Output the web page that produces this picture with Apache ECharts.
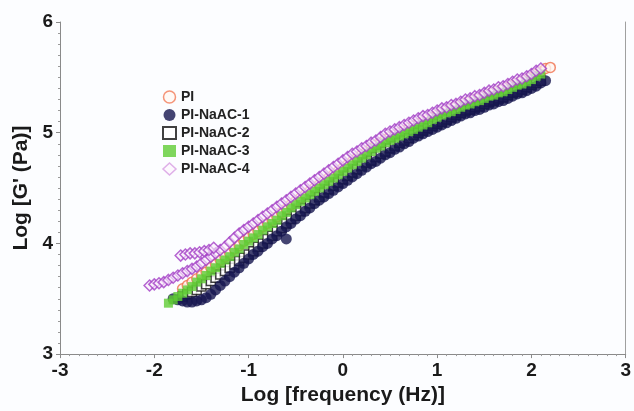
<!DOCTYPE html>
<html>
<head>
<meta charset="utf-8">
<script src="https://cdn.jsdelivr.net/npm/echarts@6/dist/echarts.min.js"></script>
<style>html,body{margin:0;padding:0;background:#fcfdff;}#c{width:634px;height:411px;}</style>
</head>
<body>
<div id="c"></div>
<script>
// Shared log-frequency grid (log Hz)
var logF = [
 -2.05,-2.00,-1.95,-1.90,-1.85,-1.80,-1.75,-1.70,-1.65,-1.60,
 -1.55,-1.50,-1.45,-1.40,-1.35,-1.30,-1.25,-1.20,-1.15,-1.10,
 -1.05,-1.00,-0.95,-0.90,-0.85,-0.80,-0.75,-0.70,-0.65,-0.60,
 -0.55,-0.50,-0.45,-0.40,-0.35,-0.30,-0.25,-0.20,-0.15,-0.10,
 -0.05,0.00,0.05,0.10,0.15,0.20,0.25,0.30,0.35,0.40,
 0.45,0.50,0.55,0.60,0.65,0.70,0.75,0.80,0.85,0.90,
 0.95,1.00,1.05,1.10,1.15,1.20,1.25,1.30,1.35,1.40,
 1.45,1.50,1.55,1.60,1.65,1.70,1.75,1.80,1.85,1.90,
 1.95,2.00,2.05,2.10,2.15,2.20
];
var n = null;
var gPI = [
 n,n,n,n,n,n,n,3.59,3.62,3.65,
 3.68,3.71,3.74,3.78,3.81,3.85,3.88,3.91,3.95,3.98,
 4.02,4.05,4.08,4.11,4.15,4.18,4.21,4.24,4.28,4.31,
 4.35,4.38,4.41,4.44,4.47,4.50,4.53,4.56,4.59,4.62,
 4.65,4.68,4.71,4.74,4.77,4.80,4.83,4.86,4.89,4.91,
 4.94,4.96,4.98,5.00,5.02,5.04,5.06,5.08,5.10,5.12,
 5.14,5.16,5.18,5.20,5.22,5.23,5.25,5.27,5.28,5.30,
 5.31,5.33,5.35,5.36,5.38,5.39,5.41,5.43,5.45,5.46,
 5.48,5.50,5.53,5.55,5.58,5.59
];
var gNaAC1 = [
 n,n,n,n,n,3.50,3.49,3.48,3.47,3.47,
 3.48,3.49,3.51,3.54,3.58,3.62,3.66,3.70,3.74,3.78,
 3.82,3.86,3.90,3.93,3.97,4.00,4.04,4.07,4.11,4.15,
 4.18,4.22,4.25,4.29,4.32,4.36,4.39,4.42,4.45,4.48,
 4.51,4.54,4.57,4.60,4.63,4.66,4.69,4.72,4.74,4.77,
 4.80,4.82,4.85,4.87,4.90,4.92,4.95,4.97,4.99,5.01,
 5.03,5.05,5.07,5.09,5.11,5.13,5.15,5.17,5.18,5.20,
 5.21,5.23,5.25,5.26,5.28,5.29,5.31,5.33,5.35,5.36,
 5.38,5.40,5.42,5.45,5.47,n
];
var gNaAC1Extra = [[-0.60, 4.04]];
var gNaAC2 = [
 n,n,n,n,n,n,n,3.52,3.54,3.56,
 3.58,3.61,3.63,3.66,3.69,3.72,3.75,3.78,3.81,3.84,
 3.87,3.90,3.93,3.97,4.00,4.04,4.07,4.11,4.14,4.18,
 4.22,4.25,4.29,4.32,4.36,4.39,4.42,4.46,4.49,4.52,
 4.55,4.58,4.61,4.64,4.67,4.70,4.73,4.75,4.78,4.81,
 4.83,4.86,4.88,4.91,4.93,4.95,4.98,5.00,5.02,5.04,
 5.06,5.08,5.10,5.12,5.14,5.16,5.18,5.20,5.21,5.23,
 5.24,5.26,5.28,5.29,5.31,5.32,5.34,5.36,5.37,5.39,
 5.41,5.43,5.45,5.47,n,n
];
var gNaAC3 = [
 n,n,n,n,3.46,3.49,3.52,3.55,3.58,3.61,
 3.65,3.68,3.71,3.75,3.78,3.82,3.85,3.88,3.92,3.95,
 3.99,4.02,4.05,4.08,4.12,4.15,4.18,4.21,4.25,4.28,
 4.32,4.35,4.38,4.41,4.44,4.47,4.50,4.53,4.56,4.59,
 4.62,4.65,4.68,4.71,4.74,4.77,4.80,4.83,4.86,4.88,
 4.91,4.93,4.95,4.97,4.99,5.01,5.03,5.05,5.07,5.09,
 5.12,5.14,5.16,5.18,5.19,5.21,5.23,5.25,5.26,5.28,
 5.29,5.31,5.33,5.34,5.36,5.37,5.39,5.41,5.43,5.44,
 5.46,5.48,5.51,5.53,n,n
];
var gNaAC4 = [
 3.62,3.63,3.64,3.65,3.67,3.69,3.71,3.73,3.75,3.77,
 3.79,3.82,3.85,3.88,3.91,3.94,3.97,4.01,4.05,4.09,
 4.12,4.15,4.18,4.21,4.24,4.27,4.30,4.33,4.36,4.39,
 4.42,4.45,4.48,4.51,4.54,4.57,4.60,4.63,4.66,4.69,
 4.72,4.75,4.78,4.81,4.83,4.86,4.88,4.91,4.93,4.96,
 4.99,5.01,5.03,5.05,5.07,5.09,5.11,5.13,5.15,5.16,
 5.18,5.20,5.22,5.23,5.25,5.26,5.28,5.30,5.31,5.33,
 5.34,5.36,5.38,5.39,5.41,5.42,5.44,5.46,5.48,5.49,
 5.51,5.53,5.56,5.58,n,n
];
var gNaAC4Extra = [[-1.72,3.89],[-1.67,3.90],[-1.62,3.91],[-1.57,3.91],[-1.52,3.92],[-1.47,3.93],[-1.42,3.94],[-1.37,3.96]];

var seriesNames = ['PI','PI-NaAC-1','PI-NaAC-2','PI-NaAC-3','PI-NaAC-4'];
var xTicks = [-3,-2,-1,0,1,2,3];
var yTicks = [3,4,5,6];

function pairs(ys, extra) {
  var out = [];
  for (var i = 0; i < logF.length; i++) if (ys[i] !== null) out.push([logF[i], ys[i]]);
  if (extra) out = out.concat(extra);
  return out;
}

var chart = echarts.init(document.getElementById('c'), null, {renderer: 'canvas'});
var FF = 'Liberation Sans, Arial, sans-serif';
var labelFont = {fontFamily: FF, fontWeight: 'bold', fontSize: 19, color: '#1a1a1a'};
var option = {
  backgroundColor: '#fcfdff',
  animation: false,
  grid: {left: 60, right: 6, top: 22, bottom: 53},
  legend: {
    orient: 'vertical', left: 162, top: 90, itemWidth: 13, itemHeight: 12, itemGap: 4, padding: 0,
    data: [
      {name: seriesNames[0], itemStyle: {color: '#fff8f4', borderColor: '#f27a58', borderWidth: 1.5}},
      {name: seriesNames[1]},
      {name: seriesNames[2]},
      {name: seriesNames[3]},
      {name: seriesNames[4], itemStyle: {color: '#fdf6fe', borderColor: '#d79ce2', borderWidth: 1.5}}
    ],
    textStyle: {fontFamily: FF, fontWeight: 'bold', fontSize: 14, color: '#222'}
  },
  xAxis: {
    type: 'value', min: -3, max: 3, interval: 1,
    name: 'Log [frequency (Hz)]', nameLocation: 'middle', nameGap: 25,
    nameTextStyle: {fontFamily: FF, fontWeight: 'bold', fontSize: 21, color: '#1a1a1a'},
    axisLine: {onZero: false, lineStyle: {color: '#8a8a8a', width: 1}},
    axisTick: {show: true, length: 4, lineStyle: {color: '#8a8a8a'}},
    minorTick: {show: true, splitNumber: 10, length: 2, lineStyle: {color: '#9a9a9a'}},
    splitLine: {show: false},
    axisLabel: Object.assign({margin: 7, formatter: function(v){return xTicks.indexOf(v) >= 0 ? String(v) : '';}}, labelFont)
  },
  yAxis: [{
    type: 'value', min: 3, max: 6, interval: 1, position: 'left',
    name: "Log [G' (Pa)]", nameLocation: 'middle', nameGap: 28,
    nameTextStyle: {fontFamily: FF, fontWeight: 'bold', fontSize: 21, color: '#1a1a1a'},
    axisLine: {show: true, onZero: false, lineStyle: {color: '#8a8a8a', width: 1}},
    axisTick: {show: true, length: 4, lineStyle: {color: '#8a8a8a'}},
    minorTick: {show: true, splitNumber: 10, length: 2, lineStyle: {color: '#9a9a9a'}},
    splitLine: {show: false},
    axisLabel: Object.assign({margin: 7, formatter: function(v){return yTicks.indexOf(v) >= 0 ? String(v) : '';}}, labelFont)
  }, {
    type: 'value', min: 3, max: 6, interval: 1, position: 'right',
    axisLine: {show: true, onZero: false, lineStyle: {color: '#a0a0a0', width: 1}},
    axisTick: {show: false}, axisLabel: {show: false}, splitLine: {show: false}
  }],
  series: [
    {name: seriesNames[0], type: 'scatter', symbol: 'circle', symbolSize: 10, data: pairs(gPI),
     itemStyle: {color: '#fff5f0', borderColor: '#f0704e', borderWidth: 1.5}},
    {name: seriesNames[2], type: 'scatter', symbol: 'rect', symbolSize: 9, data: pairs(gNaAC2),
     itemStyle: {color: '#ffffff', borderColor: '#111111', borderWidth: 1.5}},
    {name: seriesNames[1], type: 'scatter', symbol: 'circle', symbolSize: 11, data: pairs(gNaAC1, gNaAC1Extra),
     itemStyle: {color: '#15154f'}},
    {name: seriesNames[3], type: 'scatter', symbol: 'rect', symbolSize: 9, data: pairs(gNaAC3),
     itemStyle: {color: '#5fcc35'}},
    {name: seriesNames[4], type: 'scatter', symbol: 'diamond', symbolSize: 11, data: pairs(gNaAC4, gNaAC4Extra),
     itemStyle: {color: 'rgba(250,240,252,0.8)', borderColor: '#a33fc6', borderWidth: 1.5}}
  ]
};
chart.setOption(option);
</script>
</body>
</html>
